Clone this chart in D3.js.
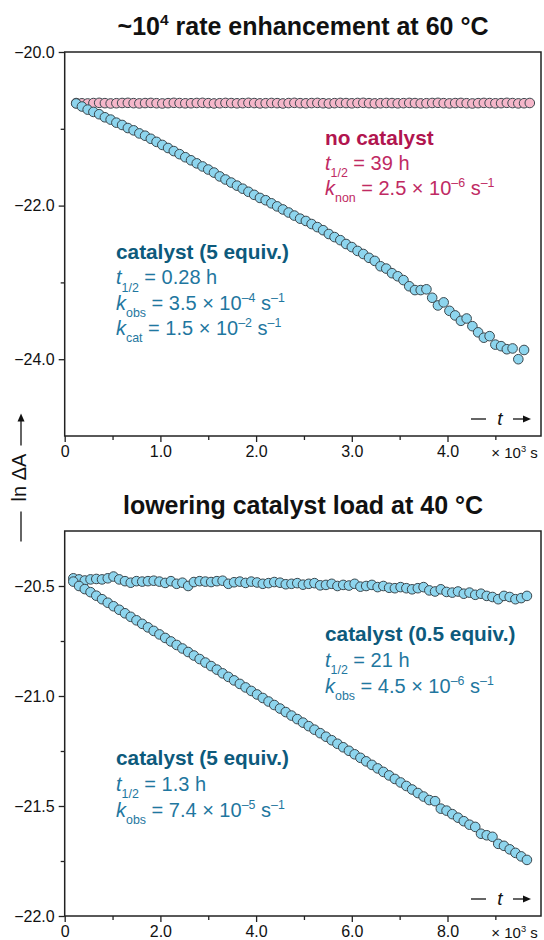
<!DOCTYPE html>
<meta charset="utf-8">
<script src="https://d3js.org/d3.v7.min.js"></script>
<style>
  body { margin: 0; background: #fff; }
  svg { font-family: "Liberation Sans", Arial, sans-serif; }
</style>
<div id="chart"></div>
<script>

// ---- data: top panel (60 °C), time in 10^3 s, ln ΔA
const timeTop = [
  0.12, 0.18, 0.24, 0.30, 0.36, 0.42, 0.48, 0.54, 0.60, 0.66,
  0.72, 0.78, 0.84, 0.90, 0.96, 1.02, 1.08, 1.14, 1.20, 1.26,
  1.32, 1.38, 1.44, 1.50, 1.56, 1.62, 1.68, 1.74, 1.80, 1.86,
  1.92, 1.98, 2.04, 2.10, 2.16, 2.22, 2.28, 2.34, 2.40, 2.46,
  2.52, 2.58, 2.64, 2.70, 2.76, 2.82, 2.88, 2.94, 3.00, 3.06,
  3.12, 3.18, 3.24, 3.30, 3.36, 3.42, 3.48, 3.54, 3.60, 3.66,
  3.72, 3.78, 3.84, 3.90, 3.96, 4.02, 4.08, 4.14, 4.20, 4.26,
  4.32, 4.38, 4.44, 4.50, 4.56, 4.62, 4.68, 4.74, 4.80, 4.86]

const noCatalyst60 = [
  -20.665, -20.668, -20.670, -20.665, -20.662, -20.666, -20.670, -20.667, -20.664, -20.662,
  -20.666, -20.669, -20.665, -20.663, -20.667, -20.670, -20.666, -20.662, -20.665, -20.668,
  -20.667, -20.664, -20.662, -20.666, -20.670, -20.667, -20.663, -20.665, -20.668, -20.666,
  -20.662, -20.665, -20.669, -20.667, -20.664, -20.666, -20.670, -20.665, -20.662, -20.666,
  -20.668, -20.665, -20.663, -20.667, -20.670, -20.666, -20.663, -20.665, -20.668, -20.664,
  -20.662, -20.666, -20.669, -20.667, -20.664, -20.665, -20.668, -20.666, -20.663, -20.665,
  -20.669, -20.667, -20.664, -20.662, -20.666, -20.669, -20.665, -20.663, -20.667, -20.670,
  -20.666, -20.663, -20.665, -20.668, -20.666, -20.662, -20.665, -20.669, -20.667, -20.664]

const catalyst5eq60 = [
  -20.67, -20.71, -20.75, -20.78, -20.81, -20.85, -20.88, -20.92, -20.95, -20.99,
  -21.02, -21.06, -21.09, -21.13, -21.17, -21.21, -21.25, -21.29, -21.33, -21.37,
  -21.41, -21.45, -21.49, -21.53, -21.57, -21.62, -21.66, -21.70, -21.74, -21.78,
  -21.82, -21.86, -21.90, -21.93, -21.97, -22.01, -22.05, -22.09, -22.13, -22.17,
  -22.20, -22.24, -22.28, -22.32, -22.37, -22.41, -22.45, -22.50, -22.54, -22.59,
  -22.63, -22.68, -22.72, -22.79, -22.82, -22.88, -22.92, -22.97, -23.05, -23.10,
  -23.10, -23.09, -23.20, -23.30, -23.26, -23.37, -23.43, -23.50, -23.47, -23.57,
  -23.65, -23.72, -23.70, -23.81, -23.83, -23.87, -23.86, -24.00, -23.88]

// ---- data: bottom panel (40 °C)
const timeBottom = [
  0.18, 0.30, 0.42, 0.54, 0.66, 0.78, 0.90, 1.02, 1.14, 1.26,
  1.38, 1.50, 1.62, 1.74, 1.86, 1.98, 2.10, 2.22, 2.34, 2.46,
  2.58, 2.70, 2.82, 2.94, 3.06, 3.18, 3.30, 3.42, 3.54, 3.66,
  3.78, 3.90, 4.02, 4.14, 4.26, 4.38, 4.50, 4.62, 4.74, 4.86,
  4.98, 5.10, 5.22, 5.34, 5.46, 5.58, 5.70, 5.82, 5.94, 6.06,
  6.18, 6.30, 6.42, 6.54, 6.66, 6.78, 6.90, 7.02, 7.14, 7.26,
  7.38, 7.50, 7.62, 7.74, 7.86, 7.98, 8.10, 8.22, 8.34, 8.46,
  8.58, 8.70, 8.82, 8.94, 9.06, 9.18, 9.30, 9.42, 9.54, 9.66]

const catalyst05eq40 = [
  -20.465, -20.470, -20.475, -20.470, -20.468, -20.470, -20.465, -20.457, -20.470, -20.478,
  -20.485, -20.478, -20.480, -20.478, -20.476, -20.480, -20.486, -20.478, -20.490, -20.485,
  -20.500, -20.482, -20.478, -20.480, -20.482, -20.478, -20.476, -20.490, -20.483, -20.480,
  -20.486, -20.480, -20.484, -20.490, -20.487, -20.482, -20.485, -20.492, -20.490, -20.487,
  -20.494, -20.490, -20.487, -20.497, -20.495, -20.490, -20.500, -20.495, -20.498, -20.490,
  -20.503, -20.500, -20.495, -20.505, -20.500, -20.508, -20.510, -20.505, -20.510, -20.515,
  -20.510, -20.505, -20.520, -20.525, -20.515, -20.527, -20.530, -20.525, -20.535, -20.530,
  -20.540, -20.535, -20.545, -20.550, -20.560, -20.545, -20.550, -20.560, -20.555, -20.545]

const catalyst5eq40 = [
  -20.480, -20.500, -20.514, -20.528, -20.544, -20.560, -20.576, -20.592, -20.608, -20.624,
  -20.640, -20.656, -20.672, -20.688, -20.704, -20.720, -20.736, -20.752, -20.768, -20.784,
  -20.800, -20.816, -20.832, -20.848, -20.864, -20.880, -20.897, -20.913, -20.929, -20.945,
  -20.961, -20.977, -20.993, -21.009, -21.025, -21.041, -21.057, -21.073, -21.089, -21.105,
  -21.121, -21.137, -21.153, -21.169, -21.185, -21.201, -21.217, -21.233, -21.249, -21.265,
  -21.281, -21.297, -21.313, -21.329, -21.345, -21.361, -21.377, -21.393, -21.409, -21.425,
  -21.441, -21.457, -21.473, -21.478, -21.512, -21.521, -21.537, -21.553, -21.569, -21.585,
  -21.595, -21.626, -21.633, -21.640, -21.672, -21.681, -21.697, -21.713, -21.729, -21.745]

// ---- axis ticks
const yTicksTop = [-20, -22, -24]
const yMinorTop = [-21, -23]
const xTicksTop = [0, 1, 2, 3, 4]
const xMinorTop = [0.5, 1.5, 2.5, 3.5, 4.5]
const yTicksBottom = [-20.5, -21, -21.5, -22]
const yMinorBottom = [-20.75, -21.25, -21.75]
const xTicksBottom = [0, 2, 4, 6, 8]
const xMinorBottom = [1, 3, 5, 7, 9]

const blueFill = "#8dd5ee"
const pinkFill = "#f5b7ca"
const markStroke = "#3b474d"
const teal = "#0d5a7c", tealLight = "#1f77a0"
const crimson = "#b1154f", crimsonLight = "#c02a63"

const width = 544, height = 940
const svg = d3.select("#chart").append("svg")
  .attr("width", width)
  .attr("height", height)

const minus = s => s.replace("-", "\u2013")

// a text line made of plain / italic / sub / sup pieces
function richText(g, x, y, segs, size, color, weight) {
  const text = g.append("text")
    .attr("x", x).attr("y", y)
    .attr("font-size", size)
    .attr("fill", color)
    .attr("font-weight", weight || "normal")
  let shift = 0
  segs.forEach(([str, kind]) => {
    const target = kind === "sub" ? 0.36 * size : kind === "sup" ? -0.4 * size : 0
    const ts = text.append("tspan").attr("dy", target - shift).text(str)
    if (kind === "sub" || kind === "sup") ts.attr("font-size", size * 0.62)
    if (kind === "i") ts.attr("font-style", "italic")
    shift = target
  })
  return text
}

function panel(opt) {
  const x = d3.scaleLinear().domain(opt.xDomain).range([64.7, 541])
  const y = d3.scaleLinear().domain(opt.yDomain).range([opt.bottom, opt.top])
  const g = svg.append("g")

  // title
  richText(g, 303, opt.titleY, opt.title, 25, "#111", "bold").attr("text-anchor", "middle")

  // left axis: major + minor
  g.append("g")
    .attr("transform", "translate(64.7,0)")
    .call(d3.axisLeft(y).tickValues(opt.yTicks).tickSize(6).tickPadding(4)
      .tickFormat(d => minus(d3.format(".1f")(d))))
    .call(a => a.select(".domain").remove())
  g.append("g")
    .attr("transform", "translate(64.7,0)")
    .call(d3.axisLeft(y).tickValues(opt.yMinor).tickSize(4).tickFormat(""))
    .call(a => a.select(".domain").remove())

  // bottom axis: major + minor
  g.append("g")
    .attr("transform", `translate(0,${opt.bottom})`)
    .call(d3.axisBottom(x).tickValues(opt.xTicks).tickSize(6).tickPadding(4)
      .tickFormat(d => d === 0 ? "0" : d3.format(".1f")(d)))
    .call(a => a.select(".domain").remove())
  g.append("g")
    .attr("transform", `translate(0,${opt.bottom})`)
    .call(d3.axisBottom(x).tickValues(opt.xMinor).tickSize(4).tickFormat(""))
    .call(a => a.select(".domain").remove())

  g.selectAll(".tick text").attr("font-size", 16).attr("fill", "#111")
    .attr("font-family", "'Liberation Sans', Arial, sans-serif")
  g.selectAll(".tick line").attr("stroke", "#222").attr("stroke-width", 1.3)

  // unit label at the last minor tick
  richText(g, x(opt.unitAt) - 4, opt.bottom + 22,
    [["\u00d7 10", ""], ["3", "sup"], [" s", ""]], 15, "#111")

  // frame
  g.append("rect")
    .attr("x", 64.7).attr("y", opt.top)
    .attr("width", 541 - 64.7).attr("height", opt.bottom - opt.top)
    .attr("fill", "none").attr("stroke", "#222").attr("stroke-width", 1.5)

  // series
  opt.series.forEach(s => {
    g.append("g").selectAll("circle")
      .data(s.values)
      .join("circle")
      .attr("cx", (d, i) => x(s.time[i]))
      .attr("cy", d => y(d))
      .attr("r", 4.8)
      .attr("fill", s.fill)
      .attr("stroke", markStroke)
      .attr("stroke-width", 1)
  })

  // "— t →" inside the frame
  const ty = opt.bottom - 17
  g.append("line").attr("x1", 471).attr("x2", 486).attr("y1", ty).attr("y2", ty)
    .attr("stroke", "#111").attr("stroke-width", 1.3)
  g.append("text").attr("x", 500).attr("y", ty + 6).attr("text-anchor", "middle")
    .attr("font-size", 19).attr("font-style", "italic").attr("fill", "#111").text("t")
  g.append("line").attr("x1", 513).attr("x2", 526).attr("y1", ty).attr("y2", ty)
    .attr("stroke", "#111").attr("stroke-width", 1.3)
  g.append("path").attr("d", `M531,${ty} L523,${ty - 3.5} L523,${ty + 3.5} Z`).attr("fill", "#111")

  // annotations
  opt.notes.forEach(n => {
    n.lines.forEach((ln, i) => {
      richText(g, n.x, n.y + i * n.step, ln, i === 0 ? 20.8 : 20, i === 0 ? n.color : n.light, i === 0 ? "bold" : "normal")
    })
  })
}

panel({
  top: 52, bottom: 436, titleY: 35,
  title: [["~10", ""], ["4", "sup"], [" rate enhancement at 60 \u00b0C", ""]],
  xDomain: [0, 4.977], yDomain: [-25, -20],
  xTicks: xTicksTop, xMinor: xMinorTop, yTicks: yTicksTop, yMinor: yMinorTop,
  unitAt: 4.5,
  series: [
    { time: timeTop, values: noCatalyst60, fill: pinkFill },
    { time: timeTop, values: catalyst5eq60, fill: blueFill }
  ],
  notes: [
    { x: 325, y: 145, step: 25, color: crimson, light: crimsonLight, lines: [
      [["no catalyst", ""]],
      [["t", "i"], ["1/2", "sub"], [" = 39 h", ""]],
      [["k", "i"], ["non", "sub"], [" = 2.5 \u00d7 10", ""], ["\u20136", "sup"], [" s", ""], ["\u20131", "sup"]]
    ]},
    { x: 116, y: 259, step: 25.3, color: teal, light: tealLight, lines: [
      [["catalyst (5 equiv.)", ""]],
      [["t", "i"], ["1/2", "sub"], [" = 0.28 h", ""]],
      [["k", "i"], ["obs", "sub"], [" = 3.5 \u00d7 10", ""], ["\u20134", "sup"], [" s", ""], ["\u20131", "sup"]],
      [["k", "i"], ["cat", "sub"], [" = 1.5 \u00d7 10", ""], ["\u20132", "sup"], [" s", ""], ["\u20131", "sup"]]
    ]}
  ]
})

panel({
  top: 531, bottom: 916, titleY: 514,
  title: [["lowering catalyst load at 40 \u00b0C", ""]],
  xDomain: [0, 9.954], yDomain: [-22, -20.25],
  xTicks: xTicksBottom, xMinor: xMinorBottom, yTicks: yTicksBottom, yMinor: yMinorBottom,
  unitAt: 9,
  series: [
    { time: timeBottom, values: catalyst05eq40, fill: blueFill },
    { time: timeBottom, values: catalyst5eq40, fill: blueFill }
  ],
  notes: [
    { x: 325, y: 641, step: 26, color: teal, light: tealLight, lines: [
      [["catalyst (0.5 equiv.)", ""]],
      [["t", "i"], ["1/2", "sub"], [" = 21 h", ""]],
      [["k", "i"], ["obs", "sub"], [" = 4.5 \u00d7 10", ""], ["\u20136", "sup"], [" s", ""], ["\u20131", "sup"]]
    ]},
    { x: 116, y: 765, step: 26, color: teal, light: tealLight, lines: [
      [["catalyst (5 equiv.)", ""]],
      [["t", "i"], ["1/2", "sub"], [" = 1.3 h", ""]],
      [["k", "i"], ["obs", "sub"], [" = 7.4 \u00d7 10", ""], ["\u20135", "sup"], [" s", ""], ["\u20131", "sup"]]
    ]}
  ]
})

// shared y-axis label: —— ln ΔA ——→
const yl = svg.append("g").attr("transform", "translate(26,477.5) rotate(-90)")
yl.append("text").attr("text-anchor", "middle").attr("font-size", 20).attr("fill", "#111")
  .text("ln \u0394A")
yl.append("line").attr("x1", -34).attr("x2", -64).attr("y1", -5).attr("y2", -5)
  .attr("stroke", "#111").attr("stroke-width", 1.3)
yl.append("line").attr("x1", 32).attr("x2", 58).attr("y1", -5).attr("y2", -5)
  .attr("stroke", "#111").attr("stroke-width", 1.3)
yl.append("path").attr("d", "M64,-5 L56,-8.5 L56,-1.5 Z").attr("fill", "#111")

</script>
